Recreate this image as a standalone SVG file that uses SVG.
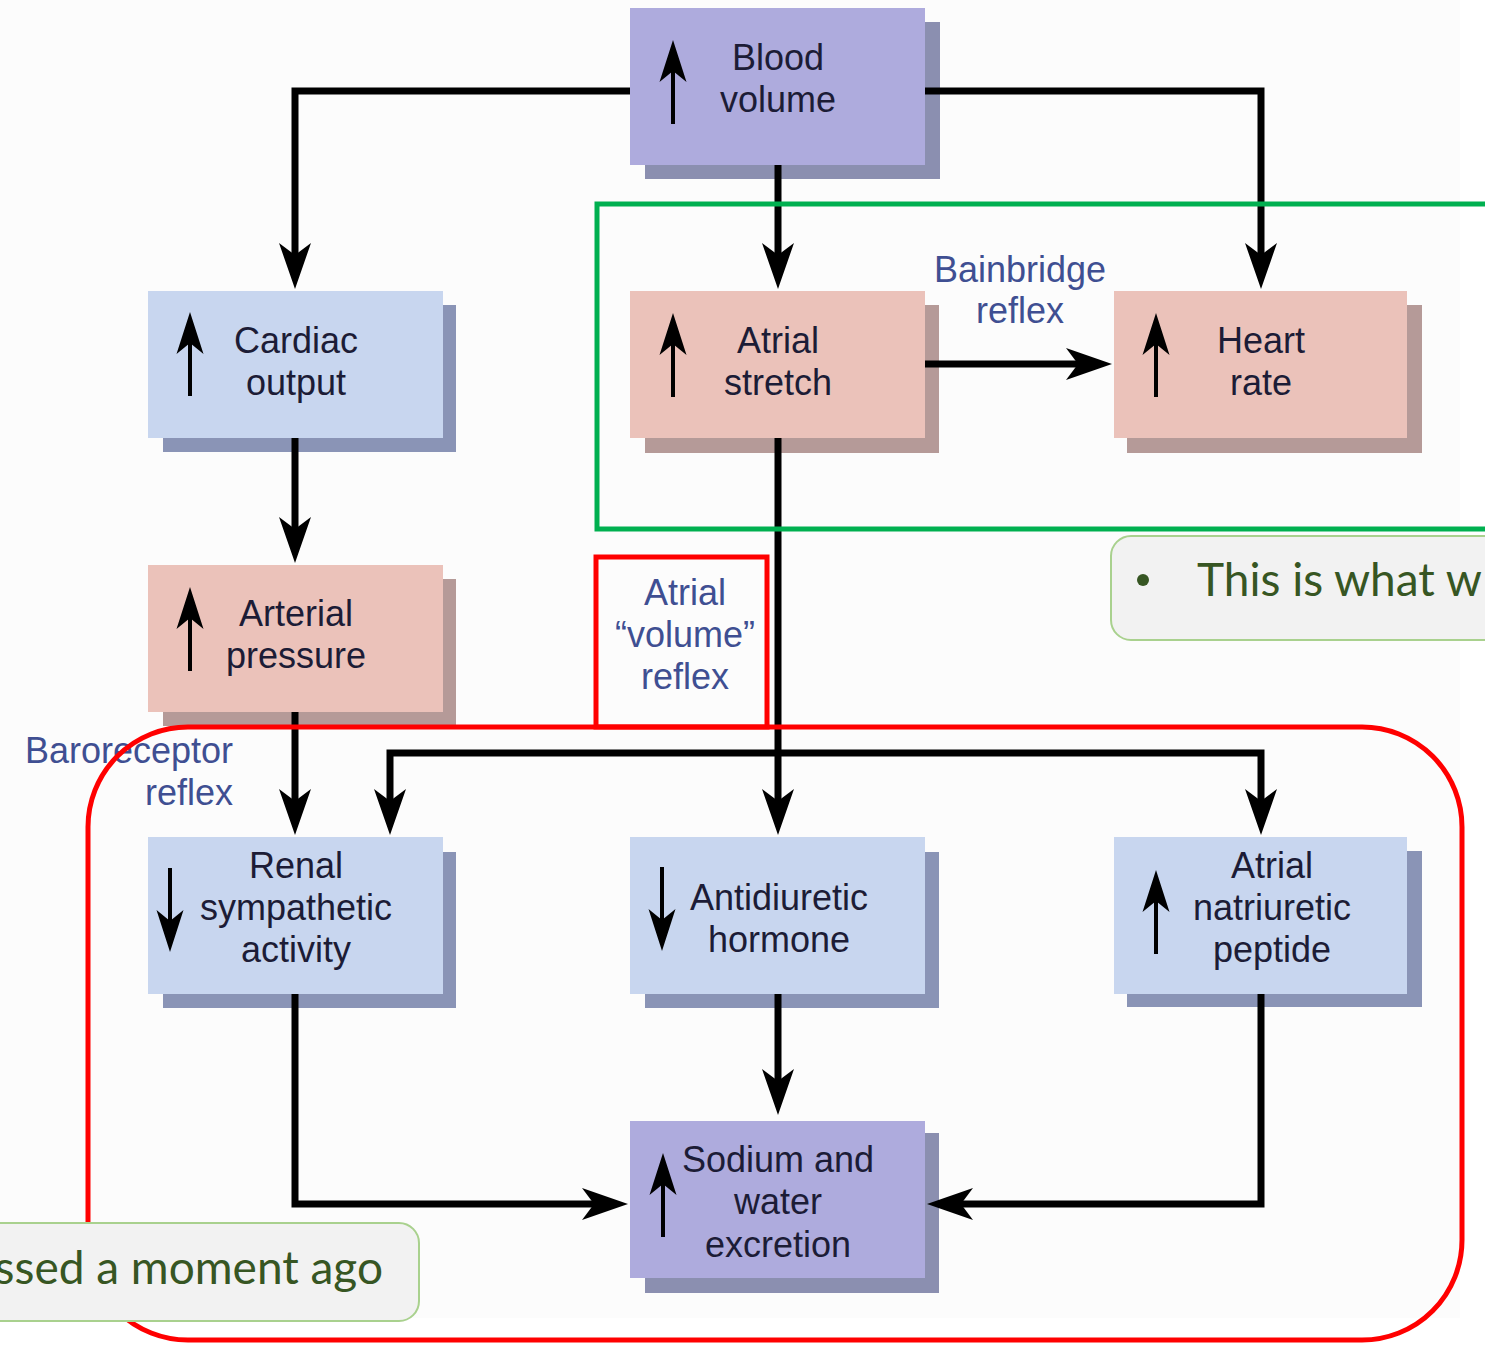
<svg xmlns="http://www.w3.org/2000/svg" xmlns:xlink="http://www.w3.org/1999/xlink" width="1485" height="1346" viewBox="0 0 1485 1346">
<style>
.shL{fill:#8b8fb0}
.frL{fill:#aeabdd}
.shB{fill:#8a94b6}
.frB{fill:#c8d6ef}
.shP{fill:#b59a98}
.frP{fill:#ebc2ba}
.t{font-family:"Liberation Sans",Arial,sans-serif;font-size:36px;fill:#1c1c36;text-anchor:middle}
.lab{font-family:"Liberation Sans",Arial,sans-serif;font-size:36px;fill:#3f4f92}
.conn{fill:none;stroke:#000;stroke-width:7;stroke-linejoin:miter;marker-end:url(#ah)}
.red{fill:none;stroke:#ff0000;stroke-width:5}
.note{font-family:Lato,"Open Sans",sans-serif;font-size:46px;fill:#375623}
</style>
<defs>
<marker id="ah" viewBox="0 0 46 32" markerWidth="46" markerHeight="32" refX="12" refY="16" orient="auto" markerUnits="userSpaceOnUse">
<path d="M0,0 L46,16 L0,32 L12,16 Z" fill="#000"/>
</marker>
<g id="up">
<line x1="0" y1="28" x2="0" y2="84" stroke="#000" stroke-width="4"/>
<path d="M0,0 L13.5,42 L0,31 L-13.5,42 Z" fill="#000"/>
</g>
</defs>
<rect x="0" y="0" width="1460" height="1318" fill="#fcfcfc"/>

<g id="node-blood-volume">
<rect class="shL" x="645" y="22" width="295" height="157"/>
<rect class="frL" x="630" y="8" width="295" height="157"/>
<use xlink:href="#up" transform="translate(673,40)"/>
<text class="t" x="778" y="70">Blood</text>
<text class="t" x="778" y="112">volume</text>
</g>

<g id="node-cardiac-output">
<rect class="shB" x="163" y="305" width="293" height="147"/>
<rect class="frB" x="148" y="291" width="295" height="147"/>
<use xlink:href="#up" transform="translate(190,312)"/>
<text class="t" x="296" y="353">Cardiac</text>
<text class="t" x="296" y="395">output</text>
</g>

<g id="node-atrial-stretch">
<rect class="shP" x="645" y="305" width="294" height="148"/>
<rect class="frP" x="630" y="291" width="295" height="147"/>
<use xlink:href="#up" transform="translate(673,313)"/>
<text class="t" x="778" y="353">Atrial</text>
<text class="t" x="778" y="395">stretch</text>
</g>

<g id="node-heart-rate">
<rect class="shP" x="1127" y="305" width="295" height="148"/>
<rect class="frP" x="1114" y="291" width="293" height="147"/>
<use xlink:href="#up" transform="translate(1156,313)"/>
<text class="t" x="1261" y="353">Heart</text>
<text class="t" x="1261" y="395">rate</text>
</g>

<g id="node-arterial-pressure">
<rect class="shP" x="163" y="579" width="293" height="147"/>
<rect class="frP" x="148" y="565" width="295" height="147"/>
<use xlink:href="#up" transform="translate(190,587)"/>
<text class="t" x="296" y="626">Arterial</text>
<text class="t" x="296" y="668">pressure</text>
</g>

<g id="node-renal-sympathetic">
<rect class="shB" x="163" y="852" width="293" height="156"/>
<rect class="frB" x="148" y="837" width="295" height="157"/>
<use xlink:href="#up" transform="translate(170,952) rotate(180)"/>
<text class="t" x="296" y="878">Renal</text>
<text class="t" x="296" y="920">sympathetic</text>
<text class="t" x="296" y="962">activity</text>
</g>

<g id="node-adh">
<rect class="shB" x="645" y="852" width="294" height="156"/>
<rect class="frB" x="630" y="837" width="295" height="157"/>
<use xlink:href="#up" transform="translate(662,951) rotate(180)"/>
<text class="t" x="779" y="910">Antidiuretic</text>
<text class="t" x="779" y="952">hormone</text>
</g>

<g id="node-anp">
<rect class="shB" x="1127" y="851" width="295" height="156"/>
<rect class="frB" x="1114" y="837" width="293" height="157"/>
<use xlink:href="#up" transform="translate(1156,870)"/>
<text class="t" x="1272" y="878">Atrial</text>
<text class="t" x="1272" y="920">natriuretic</text>
<text class="t" x="1272" y="962">peptide</text>
</g>

<g id="node-sodium-water">
<rect class="shL" x="645" y="1133" width="294" height="160"/>
<rect class="frL" x="630" y="1121" width="295" height="157"/>
<use xlink:href="#up" transform="translate(663,1153)"/>
<text class="t" x="778" y="1172">Sodium and</text>
<text class="t" x="778" y="1214">water</text>
<text class="t" x="778" y="1257">excretion</text>
</g>

<g id="labels">
<text class="lab" x="1020" y="282" text-anchor="middle">Bainbridge</text>
<text class="lab" x="1020" y="323" text-anchor="middle">reflex</text>
<text class="lab" x="685" y="605" text-anchor="middle">Atrial</text>
<text class="lab" x="685" y="647" text-anchor="middle">“volume”</text>
<text class="lab" x="685" y="689" text-anchor="middle">reflex</text>
<text class="lab" x="233" y="763" text-anchor="end">Baroreceptor</text>
<text class="lab" x="233" y="805" text-anchor="end">reflex</text>
</g>

<g id="connectors">
<path class="conn" d="M630,91 H295 V255"/>
<path class="conn" d="M778,165 V255"/>
<path class="conn" d="M925,91 H1261 V255"/>
<path class="conn" d="M925,364 H1078"/>
<path class="conn" d="M295,438 V529"/>
<path class="conn" d="M295,712 V801"/>
<path class="conn" d="M778,438 V801"/>
<path class="conn" d="M778,753 H390 V801"/>
<path class="conn" d="M778,753 H1261 V801"/>
<path class="conn" d="M778,994 V1081"/>
<path class="conn" d="M295,994 V1204 H594"/>
<path class="conn" d="M1261,994 V1204 H961"/>
</g>

<g id="annotations">
<rect x="597" y="204" width="900" height="325" fill="none" stroke="#00b050" stroke-width="5"/>
<rect class="red" x="596" y="557" width="171" height="170"/>
<rect class="red" x="88" y="727" width="1374" height="613" rx="100" ry="100"/>
<g id="note-top">
<rect x="1111" y="536" width="400" height="104" rx="20" ry="20" fill="#f2f2f2" stroke="#a9d18e" stroke-width="2"/>
<circle cx="1143" cy="580" r="6" fill="#375623"/>
<text class="note" x="1197" y="596">This is what w</text>
</g>
<g id="note-bottom">
<rect x="-30" y="1223" width="449" height="98" rx="20" ry="20" fill="#f2f2f2" stroke="#a9d18e" stroke-width="2"/>
<text class="note" x="383" y="1284" text-anchor="end">ssed a moment ago</text>
</g>
</g>
</svg>
